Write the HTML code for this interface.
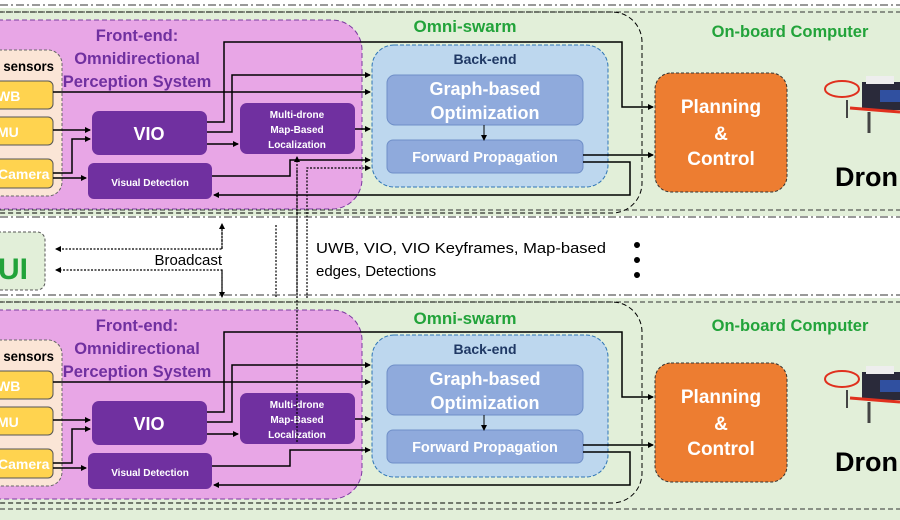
<!DOCTYPE html>
<html><head><meta charset="utf-8"><style>
html,body{margin:0;padding:0;background:#fff;}
svg{display:block;font-family:"Liberation Sans",sans-serif;}
.b{font-weight:bold;}
</style></head><body>
<svg width="900" height="520" viewBox="0 0 900 520" xmlns="http://www.w3.org/2000/svg">
<defs>
<marker id="a" markerWidth="6" markerHeight="6" refX="5" refY="3" orient="auto" markerUnits="userSpaceOnUse"><path d="M0,0 L6,3 L0,6z" fill="#000"/></marker>
</defs>
<rect width="900" height="520" fill="#fff"/>

<!-- TOP PANEL -->
<g>
<rect x="0" y="8" width="900" height="208" fill="#e2efd9"/>
<line x1="0" y1="5" x2="900" y2="5" stroke="#333" stroke-dasharray="8,3,2,3"/>
<line x1="0" y1="12" x2="900" y2="12" stroke="#333" stroke-dasharray="5,3"/>
<line x1="0" y1="210" x2="900" y2="210" stroke="#333" stroke-dasharray="5,3"/>
<line x1="0" y1="217" x2="900" y2="217" stroke="#333" stroke-dasharray="8,3,2,3"/>
<rect x="-40" y="12" width="682" height="201" rx="30" fill="none" stroke="#000" stroke-dasharray="5,3"/>
<text x="465" y="32" font-size="17" class="b" fill="#22a33a" text-anchor="middle">Omni-swarm</text>
<text x="790" y="37" font-size="16.5" class="b" fill="#22a33a" text-anchor="middle">On-board Computer</text>
<rect x="-40" y="20" width="402" height="189" rx="30" fill="#e8a6e6" stroke="#7b3aa0" stroke-dasharray="5,3"/>
<text x="137" y="41" font-size="16.5" class="b" fill="#7030a0" text-anchor="middle">Front-end:</text>
<text x="137" y="64" font-size="16.5" class="b" fill="#7030a0" text-anchor="middle">Omnidirectional</text>
<text x="137" y="87" font-size="16.5" class="b" fill="#7030a0" text-anchor="middle">Perception System</text>
<rect x="-30" y="50" width="92" height="146" rx="14" fill="#fbe5d6" stroke="#666" stroke-dasharray="3,2"/>
<text x="-4" y="71" font-size="14" class="b" fill="#000" textLength="58" lengthAdjust="spacingAndGlyphs">l sensors</text>
<rect x="-10" y="81" width="63" height="28" rx="5" fill="#ffd34f" stroke="#555"/>
<text x="-3" y="101" font-size="14" class="b" fill="#fff">WB</text>
<rect x="-10" y="117" width="63" height="28" rx="5" fill="#ffd34f" stroke="#555"/>
<text x="-3" y="137" font-size="14" class="b" fill="#fff">MU</text>
<rect x="-10" y="159" width="63" height="29" rx="5" fill="#ffd34f" stroke="#555"/>
<text x="-2" y="179" font-size="14" class="b" fill="#fff">Camera</text>
<rect x="92" y="111" width="115" height="44" rx="7" fill="#7030a0"/>
<text x="149" y="140" font-size="18" class="b" fill="#fff" text-anchor="middle">VIO</text>
<rect x="88" y="163" width="124" height="36" rx="6" fill="#7030a0"/>
<text x="150" y="186" font-size="10" class="b" fill="#fff" text-anchor="middle">Visual Detection</text>
<rect x="240" y="103" width="115" height="51" rx="7" fill="#7030a0"/>
<text x="297" y="118" font-size="10" class="b" fill="#fff" text-anchor="middle">Multi-drone</text>
<text x="297" y="133" font-size="10" class="b" fill="#fff" text-anchor="middle">Map-Based</text>
<text x="297" y="148" font-size="10" class="b" fill="#fff" text-anchor="middle">Localization</text>
<rect x="372" y="45" width="236" height="142" rx="22" fill="#bdd7ee" stroke="#2e75b6" stroke-dasharray="4,2"/>
<text x="485" y="64" font-size="14" class="b" fill="#1f3864" text-anchor="middle">Back-end</text>
<rect x="387" y="75" width="196" height="50" rx="8" fill="#8faadc" stroke="#6f8fc8"/>
<text x="485" y="95" font-size="18" class="b" fill="#fff" text-anchor="middle">Graph-based</text>
<text x="485" y="119" font-size="18" class="b" fill="#fff" text-anchor="middle">Optimization</text>
<rect x="387" y="140" width="196" height="33" rx="6" fill="#8faadc" stroke="#6f8fc8"/>
<text x="485" y="162" font-size="14.5" class="b" fill="#fff" text-anchor="middle">Forward Propagation</text>
<line x1="484" y1="125" x2="484" y2="140" stroke="#000" marker-end="url(#a)"/>
<rect x="655" y="73" width="132" height="119" rx="16" fill="#ed7d31" stroke="#333" stroke-dasharray="3,2"/>
<text x="721" y="113" font-size="19" class="b" fill="#fff" text-anchor="middle">Planning</text>
<text x="721" y="140" font-size="19" class="b" fill="#fff" text-anchor="middle">&amp;</text>
<text x="721" y="165" font-size="19" class="b" fill="#fff" text-anchor="middle">Control</text>
<g>
<ellipse cx="842" cy="89" rx="17" ry="8" fill="none" stroke="#e0301e" stroke-width="2"/>
<rect x="862" y="82" width="38" height="28" fill="#2a2a3a"/>
<rect x="866" y="76" width="28" height="8" fill="#eee"/>
<rect x="880" y="90" width="20" height="12" fill="#3050a0"/>
<line x1="850" y1="108" x2="900" y2="112" stroke="#e0301e" stroke-width="3"/>
<line x1="869" y1="112" x2="869" y2="133" stroke="#444" stroke-width="3"/>
<line x1="847" y1="100" x2="847" y2="118" stroke="#444" stroke-width="2"/>
</g>
<text x="835" y="186" font-size="27" class="b" fill="#000">Dron</text>
<g fill="none" stroke="#000" stroke-width="1.5">
<polyline points="53,92 370,92" marker-end="url(#a)"/>
<polyline points="53,130 90,130" marker-end="url(#a)"/>
<polyline points="53,173 72,173 72,139 90,139" marker-end="url(#a)"/>
<polyline points="53,178 86,178" marker-end="url(#a)"/>
<polyline points="207,122 224,122 224,42 622,42 622,107 653,107" marker-end="url(#a)"/>
<polyline points="207,132 232,132 232,75 370,75" marker-end="url(#a)"/>
<polyline points="207,144 238,144" marker-end="url(#a)"/>
<polyline points="355,129 370,129" marker-end="url(#a)"/>
<polyline points="212,176 290,176 290,160 370,160" marker-end="url(#a)"/>
<polyline points="583,155 653,155" marker-end="url(#a)"/>
<polyline points="583,162 630,162 630,195 214,195" marker-end="url(#a)"/>
</g>
</g>

<!-- MIDDLE -->
<rect x="-10" y="232" width="55" height="58" rx="8" fill="#e2efd9" stroke="#555" stroke-dasharray="3,2"/>
<text x="-2" y="279" font-size="30" class="b" fill="#22a33a">UI</text>
<g fill="none" stroke="#000" stroke-width="1.2" stroke-dasharray="2,1.5">
<polyline points="222,225 222,249 56,249" marker-end="url(#a)"/>
<polyline points="222,295 222,270 56,270" marker-end="url(#a)"/>
<line x1="222" y1="249" x2="222" y2="224" marker-end="url(#a)"/>
<line x1="222" y1="270" x2="222" y2="297" marker-end="url(#a)"/>
<polyline points="276,225 276,357 370,357" marker-end="url(#a)"/>
<line x1="297" y1="390" x2="297" y2="157" marker-end="url(#a)"/>
<line x1="297" y1="170" x2="297" y2="443"/>
<polyline points="307,298 307,168 370,168" marker-end="url(#a)"/>
</g>
<text x="222" y="265" font-size="15" fill="#000" text-anchor="end">Broadcast</text>
<text x="316" y="253" font-size="15" fill="#000" textLength="290" lengthAdjust="spacingAndGlyphs">UWB, VIO, VIO Keyframes, Map-based</text>
<text x="316" y="276" font-size="15" fill="#000">edges, Detections</text>
<circle cx="637" cy="245" r="3" fill="#000"/>
<circle cx="637" cy="260" r="3" fill="#000"/>
<circle cx="637" cy="275" r="3" fill="#000"/>

<!-- BOTTOM PANEL -->
<g transform="translate(0,290)">
<rect x="0" y="8" width="900" height="222" fill="#e2efd9"/>
<line x1="0" y1="5" x2="900" y2="5" stroke="#333" stroke-dasharray="8,3,2,3"/>
<line x1="0" y1="12" x2="900" y2="12" stroke="#333" stroke-dasharray="5,3"/>
<line x1="0" y1="219" x2="900" y2="219" stroke="#333" stroke-dasharray="5,3"/>
<rect x="-40" y="12" width="682" height="201" rx="30" fill="none" stroke="#000" stroke-dasharray="5,3"/>
<text x="465" y="34" font-size="17" class="b" fill="#22a33a" text-anchor="middle">Omni-swarm</text>
<text x="790" y="41" font-size="16.5" class="b" fill="#22a33a" text-anchor="middle">On-board Computer</text>
<rect x="-40" y="20" width="402" height="189" rx="30" fill="#e8a6e6" stroke="#7b3aa0" stroke-dasharray="5,3"/>
<text x="137" y="41" font-size="16.5" class="b" fill="#7030a0" text-anchor="middle">Front-end:</text>
<text x="137" y="64" font-size="16.5" class="b" fill="#7030a0" text-anchor="middle">Omnidirectional</text>
<text x="137" y="87" font-size="16.5" class="b" fill="#7030a0" text-anchor="middle">Perception System</text>
<rect x="-30" y="50" width="92" height="146" rx="14" fill="#fbe5d6" stroke="#666" stroke-dasharray="3,2"/>
<text x="-4" y="71" font-size="14" class="b" fill="#000" textLength="58" lengthAdjust="spacingAndGlyphs">l sensors</text>
<rect x="-10" y="81" width="63" height="28" rx="5" fill="#ffd34f" stroke="#555"/>
<text x="-3" y="101" font-size="14" class="b" fill="#fff">WB</text>
<rect x="-10" y="117" width="63" height="28" rx="5" fill="#ffd34f" stroke="#555"/>
<text x="-3" y="137" font-size="14" class="b" fill="#fff">MU</text>
<rect x="-10" y="159" width="63" height="29" rx="5" fill="#ffd34f" stroke="#555"/>
<text x="-2" y="179" font-size="14" class="b" fill="#fff">Camera</text>
<rect x="92" y="111" width="115" height="44" rx="7" fill="#7030a0"/>
<text x="149" y="140" font-size="18" class="b" fill="#fff" text-anchor="middle">VIO</text>
<rect x="88" y="163" width="124" height="36" rx="6" fill="#7030a0"/>
<text x="150" y="186" font-size="10" class="b" fill="#fff" text-anchor="middle">Visual Detection</text>
<rect x="240" y="103" width="115" height="51" rx="7" fill="#7030a0"/>
<text x="297" y="118" font-size="10" class="b" fill="#fff" text-anchor="middle">Multi-drone</text>
<text x="297" y="133" font-size="10" class="b" fill="#fff" text-anchor="middle">Map-Based</text>
<text x="297" y="148" font-size="10" class="b" fill="#fff" text-anchor="middle">Localization</text>
<rect x="372" y="45" width="236" height="142" rx="22" fill="#bdd7ee" stroke="#2e75b6" stroke-dasharray="4,2"/>
<text x="485" y="64" font-size="14" class="b" fill="#1f3864" text-anchor="middle">Back-end</text>
<rect x="387" y="75" width="196" height="50" rx="8" fill="#8faadc" stroke="#6f8fc8"/>
<text x="485" y="95" font-size="18" class="b" fill="#fff" text-anchor="middle">Graph-based</text>
<text x="485" y="119" font-size="18" class="b" fill="#fff" text-anchor="middle">Optimization</text>
<rect x="387" y="140" width="196" height="33" rx="6" fill="#8faadc" stroke="#6f8fc8"/>
<text x="485" y="162" font-size="14.5" class="b" fill="#fff" text-anchor="middle">Forward Propagation</text>
<line x1="484" y1="125" x2="484" y2="140" stroke="#000" marker-end="url(#a)"/>
<rect x="655" y="73" width="132" height="119" rx="16" fill="#ed7d31" stroke="#333" stroke-dasharray="3,2"/>
<text x="721" y="113" font-size="19" class="b" fill="#fff" text-anchor="middle">Planning</text>
<text x="721" y="140" font-size="19" class="b" fill="#fff" text-anchor="middle">&amp;</text>
<text x="721" y="165" font-size="19" class="b" fill="#fff" text-anchor="middle">Control</text>
<g>
<ellipse cx="842" cy="89" rx="17" ry="8" fill="none" stroke="#e0301e" stroke-width="2"/>
<rect x="862" y="82" width="38" height="28" fill="#2a2a3a"/>
<rect x="866" y="76" width="28" height="8" fill="#eee"/>
<rect x="880" y="90" width="20" height="12" fill="#3050a0"/>
<line x1="850" y1="108" x2="900" y2="112" stroke="#e0301e" stroke-width="3"/>
<line x1="869" y1="112" x2="869" y2="133" stroke="#444" stroke-width="3"/>
<line x1="847" y1="100" x2="847" y2="118" stroke="#444" stroke-width="2"/>
</g>
<text x="835" y="181" font-size="27" class="b" fill="#000">Dron</text>
<g fill="none" stroke="#000" stroke-width="1.5">
<polyline points="53,92 370,92" marker-end="url(#a)"/>
<polyline points="53,130 90,130" marker-end="url(#a)"/>
<polyline points="53,173 72,173 72,139 90,139" marker-end="url(#a)"/>
<polyline points="53,178 86,178" marker-end="url(#a)"/>
<polyline points="207,122 224,122 224,42 622,42 622,107 653,107" marker-end="url(#a)"/>
<polyline points="207,132 232,132 232,75 370,75" marker-end="url(#a)"/>
<polyline points="207,144 238,144" marker-end="url(#a)"/>
<polyline points="355,129 370,129" marker-end="url(#a)"/>
<polyline points="212,176 290,176 290,160 370,160" marker-end="url(#a)"/>
<polyline points="583,155 653,155" marker-end="url(#a)"/>
<polyline points="583,162 630,162 630,195 214,195" marker-end="url(#a)"/>
</g>
</g>
<line x1="297" y1="300" x2="297" y2="443" stroke="#000" stroke-width="1.2" stroke-dasharray="2,1.5"/>
</svg>
</body></html>
